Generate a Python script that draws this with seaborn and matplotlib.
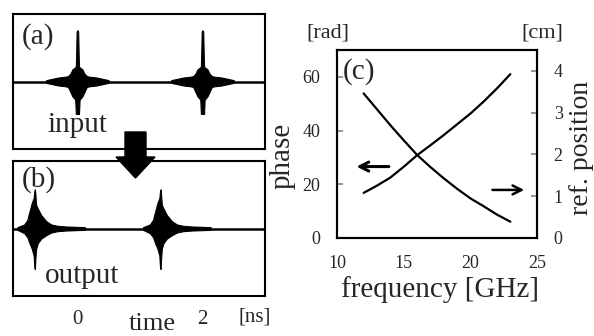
import numpy as np
import pandas as pd
import matplotlib
matplotlib.use("Agg")
import matplotlib.pyplot as plt
import seaborn as sns
from matplotlib.patches import Polygon

# ---------------- data: panel (c) ----------------
freq = [12, 13, 14, 15, 16, 17, 18, 19, 20, 21, 22, 23]
phase = [16.8, 19.5, 22.5, 26.5, 30.8, 34.5, 38.3, 42.3, 46.3, 50.8, 55.7, 61.0]
ref_pos = [3.46, 3.08, 2.70, 2.34, 1.99, 1.70, 1.43, 1.18, 0.95, 0.76, 0.56, 0.39]
freq_ticks = [10, 15, 20, 25]
phase_ticks = [0, 20, 40, 60]
pos_ticks = [0, 1, 2, 3, 4]

# ---------------- data: panels (a), (b) ----------------
input_times = [0.0, 2.0]      # ns, centre of input pulses
output_times = [-0.68, 1.33]  # ns, centre of output bursts
# input burst envelope (offset from centre [ns], upper, lower)
in_off = [-0.5, -0.4, -0.3, -0.2, -0.15, -0.11, -0.08, -0.035, -0.025, -0.02, -0.012, 0.0,
          0.012, 0.02, 0.025, 0.035, 0.08, 0.11, 0.15, 0.2, 0.3, 0.4, 0.5]
in_up = [0.02, 0.04, 0.06, 0.07, 0.08, 0.12, 0.18, 0.21, 0.23, 0.4, 0.74, 0.76,
         0.74, 0.4, 0.23, 0.21, 0.18, 0.12, 0.08, 0.07, 0.06, 0.04, 0.02]
in_lo = [-0.02, -0.04, -0.06, -0.07, -0.08, -0.16, -0.22, -0.27, -0.48, -0.48, -0.48, -0.48,
         -0.48, -0.48, -0.48, -0.27, -0.22, -0.16, -0.08, -0.07, -0.06, -0.04, -0.02]
# output (dispersed) burst envelope
out_off = [-0.28, -0.17, -0.12, -0.09, -0.05, -0.02, -0.008, 0.0, 0.008, 0.02, 0.045,
           0.1, 0.18, 0.26, 0.36, 0.5, 0.8]
out_up = [0.02, 0.06, 0.13, 0.24, 0.38, 0.45, 0.56, 0.58, 0.5, 0.35, 0.3,
          0.2, 0.11, 0.06, 0.04, 0.03, 0.02]
out_lo = [-0.02, -0.07, -0.13, -0.21, -0.3, -0.4, -0.58, -0.6, -0.45, -0.3, -0.22,
          -0.15, -0.1, -0.06, -0.04, -0.03, -0.02]
time_ticks = [0, 1, 2]
time_labels = ["0", "", "2"]
time_range = [-1.03, 3.0]

# ---------------- style ----------------
sns.set_theme(style="white")
plt.rcParams["font.family"] = ["Liberation Serif", "DejaVu Serif"]
plt.rcParams["axes.edgecolor"] = "black"
plt.rcParams["axes.linewidth"] = 1.5

W, H = 594, 336
fig = plt.figure(figsize=(W / 100, H / 100), dpi=100)


def frac(x0, y0, x1, y1):
    return [x0 / W, 1 - y1 / H, (x1 - x0) / W, (y1 - y0) / H]


ax_a = fig.add_axes(frac(13, 14, 265, 149))
ax_b = fig.add_axes(frac(13, 161, 265, 296))
ax_c = fig.add_axes(frac(337, 50, 537, 238))


def draw_wave(ax, centres, off, up, lo):
    base = pd.DataFrame({"t": time_range, "v": [0.0, 0.0]})
    sns.lineplot(data=base, x="t", y="v", ax=ax, color="black", lw=1.8)
    for c in centres:
        df = pd.DataFrame({"t": [c + o for o in off], "up": up, "lo": lo})
        ax.fill_between(df["t"], df["lo"], df["up"], color="black", lw=0.8)
    ax.set_xlim(*time_range)
    ax.set_ylim(-1, 1)
    ax.set_yticks([])
    ax.set_xticks(time_ticks)
    ax.set_xlabel("")
    ax.set_ylabel("")
    ax.tick_params(axis="x", direction="in", length=3, color="#bbbbbb", width=1)


draw_wave(ax_a, input_times, in_off, in_up, in_lo)
draw_wave(ax_b, output_times, out_off, out_up, out_lo)
ax_a.set_xticklabels([])
ax_b.set_xticklabels(time_labels, fontsize=15)
ax_b.tick_params(axis="x", pad=10)

ax_a.text(0.099, 0.83, "(a)", transform=ax_a.transAxes, ha="center", va="center", fontsize=21)
ax_a.text(0.135, 0.126, "input", transform=ax_a.transAxes, ha="left", va="baseline", fontsize=21)
ax_b.text(0.103, 0.86, "(b)", transform=ax_b.transAxes, ha="center", va="center", fontsize=21)
ax_b.text(0.127, 0.096, "output", transform=ax_b.transAxes, ha="left", va="baseline", fontsize=21)

fig.text(255 / W, 1 - 317 / H, "[ns]", ha="center", va="center", fontsize=15)
fig.text(152 / W, 1.0 / H, "time", ha="center", va="bottom", fontsize=19)

# big down arrow between (a) and (b)
arrow_px = [(125, 132), (146, 132), (146, 157), (155, 157), (135.5, 178), (116, 157), (125, 157)]
fig.add_artist(Polygon([(x / W, 1 - y / H) for x, y in arrow_px], closed=True,
                       transform=fig.transFigure, facecolor="black", edgecolor="black", zorder=5))

# ---------------- panel (c) ----------------
dfc = pd.DataFrame({"freq": freq, "phase": phase, "ref": ref_pos})
sns.lineplot(data=dfc, x="freq", y="phase", ax=ax_c, color="black", lw=1.6)
ax_r = ax_c.twinx()
sns.lineplot(data=dfc, x="freq", y="ref", ax=ax_r, color="black", lw=1.6)
ax_c.set_xlim(10, 25)
ax_c.set_ylim(0, 70)
ax_r.set_ylim(0, 4.5)
ax_c.set_xticks(freq_ticks)
ax_c.set_yticks(phase_ticks)
ax_r.set_yticks(pos_ticks)
for a in (ax_c, ax_r):
    a.set_xlabel("")
    a.set_ylabel("")
ax_c.tick_params(axis="both", direction="in", length=4, color="#888888", labelsize=13, pad=12)
ax_r.tick_params(axis="y", direction="in", length=4, color="#888888", labelsize=13, pad=12)
for sp in ax_r.spines.values():
    sp.set_linewidth(1.5)

ax_c.annotate("", xy=(11.25, 26.6), xytext=(14.1, 26.6),
              arrowprops=dict(arrowstyle="->", lw=2.2, color="black", mutation_scale=16))
ax_c.annotate("", xy=(24.25, 17.9), xytext=(21.45, 17.9),
              arrowprops=dict(arrowstyle="->", lw=1.8, color="black", mutation_scale=16))
ax_c.text(0.11, 0.883, "(c)", transform=ax_c.transAxes, ha="center", va="center", fontsize=21)

fig.text(328 / W, 1 - 33 / H, "[rad]", ha="center", va="center", fontsize=16)
fig.text(542 / W, 1 - 33 / H, "[cm]", ha="center", va="center", fontsize=16)
fig.text(283 / W, 1 - 156 / H, "phase", ha="center", va="center", rotation=90, fontsize=21)
fig.text(582 / W, 1 - 148 / H, "ref. position", ha="center", va="center", rotation=90, fontsize=20)
fig.text(440 / W, 1 - 290 / H, "frequency [GHz]", ha="center", va="center", fontsize=21)

fig.savefig("out.png", dpi=100)
